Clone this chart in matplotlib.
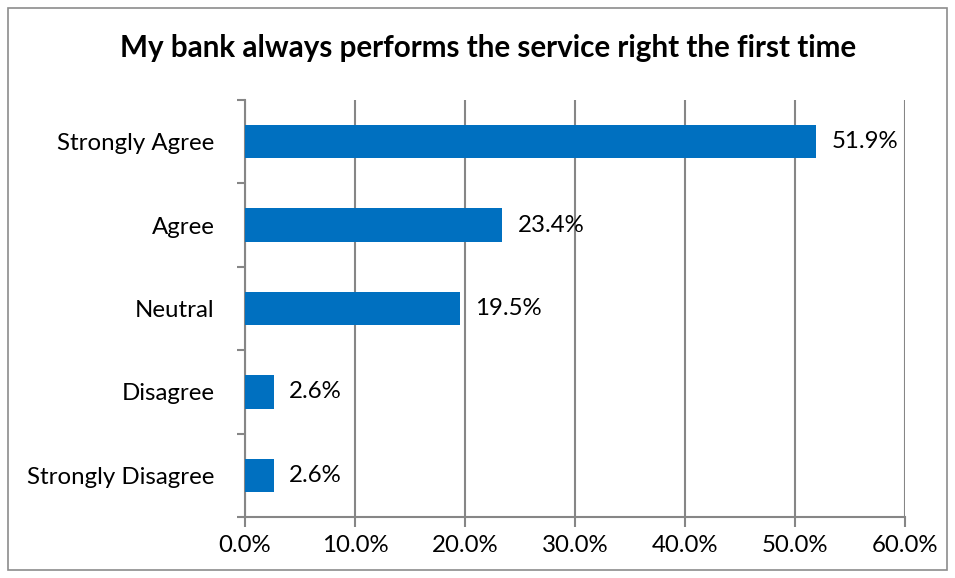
import matplotlib.pyplot as plt
from matplotlib.patches import Rectangle
from matplotlib.ticker import MultipleLocator, FuncFormatter

categories = ['Strongly Agree', 'Agree', 'Neutral', 'Disagree', 'Strongly Disagree']
values = [51.9, 23.4, 19.5, 2.6, 2.6]
title = 'My bank always performs the service right the first time'

plt.rcParams['font.family'] = ['Lato', 'DejaVu Sans']

grid_gray = '#868686'
bar_blue = '#0070C0'
label_size = 17.3

fig = plt.figure(figsize=(9.55, 5.78), dpi=100)
ax = fig.add_axes([245 / 955, 61 / 578, 660 / 955, 417 / 578])

# chart border
fig.patches.append(Rectangle((8 / 955, 8 / 578), 939 / 955, 562 / 578,
                             transform=fig.transFigure, fill=False,
                             edgecolor='#8c8c8c', linewidth=1.2))

# first category at the top
pos = list(range(len(categories)))[::-1]
ax.barh(pos, values, height=0.4, color=bar_blue, zorder=3)

for y, v in zip(pos, values):
    ax.text(v + 1.4, y, f'{v:.1f}%', va='center', ha='left', fontsize=label_size, color='black')

ax.set_xlim(0, 60)
ax.set_ylim(-0.5, 4.5)
ax.xaxis.set_major_locator(MultipleLocator(10))
ax.xaxis.set_major_formatter(FuncFormatter(lambda x, _: f'{x:.1f}%'))
ax.grid(axis='x', color=grid_gray, linewidth=1.5, zorder=0)

ax.set_yticks(pos)
ax.set_yticklabels(categories)
ax.set_yticks([p + 0.5 for p in range(-1, 5)], minor=True)
ax.tick_params(axis='y', which='major', length=0, pad=22, labelsize=label_size)
ax.tick_params(axis='y', which='minor', length=6, width=1.5, color=grid_gray)
ax.tick_params(axis='x', which='major', length=7, width=1.5, color=grid_gray, pad=6, labelsize=label_size)

for side in ['top', 'right']:
    ax.spines[side].set_visible(False)
for side in ['left', 'bottom']:
    ax.spines[side].set_color(grid_gray)
    ax.spines[side].set_linewidth(1.5)

fig.text(488 / 955, 1 - 48 / 578, title, ha='center', va='center',
         fontsize=21.3, fontweight='bold')

fig.savefig('out.png', dpi=100)
